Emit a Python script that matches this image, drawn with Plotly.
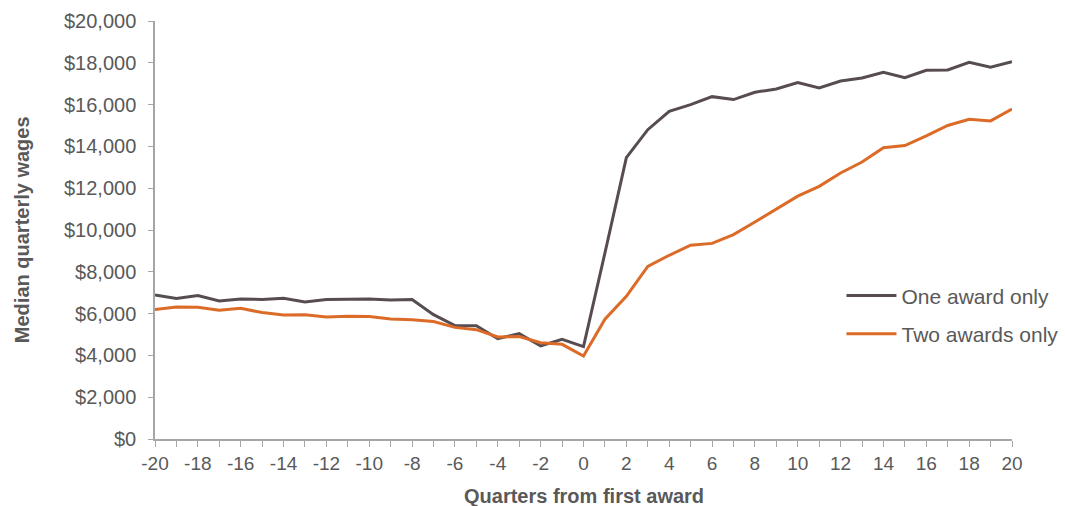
import plotly.graph_objects as go

quarters = list(range(-20, 21))

one_award = [6890, 6720, 6860, 6600, 6700, 6680, 6730, 6560, 6670, 6670,
             6700, 6650, 6670, 5950, 5430, 5420, 4800, 5040, 4450, 4770,
             4420, 8900, 13460, 14800, 15680, 16000, 16380, 16240, 16590, 16750,
             17060, 16800, 17130, 17270, 17550, 17290, 17640, 17660, 18020, 17790,
             18050]

two_awards = [6190, 6320, 6300, 6160, 6250, 6050, 5930, 5950, 5840, 5870,
              5860, 5740, 5700, 5620, 5340, 5230, 4880, 4900, 4610, 4530,
              3970, 5730, 6830, 8260, 8790, 9270, 9360, 9780, 10380, 11020,
              11620, 12090, 12730, 13250, 13940, 14040, 14500, 15000, 15300, 15220,
              15790]

y_ticks = list(range(0, 20001, 2000))
y_tick_labels = ["${:,}".format(v) for v in y_ticks]
x_ticks = list(range(-20, 21, 2))

GRAY_TEXT = "#595959"
AXIS_LINE = "#a6a6a6"

fig = go.Figure()
fig.add_trace(go.Scatter(x=quarters, y=one_award, mode="lines", name="One award only",
                         legendgroup="one", line=dict(color="#564c52", width=3)))
fig.add_trace(go.Scatter(x=quarters, y=two_awards, mode="lines", name="Two awards only",
                         legendgroup="two", line=dict(color="#dc6b28", width=3)))

fig.update_layout(
    width=1065, height=506,
    margin=dict(l=155, r=53, t=21, b=67, autoexpand=False),
    plot_bgcolor="white", paper_bgcolor="white",
    font=dict(family="Liberation Sans, Arial, sans-serif", size=20, color=GRAY_TEXT),
    showlegend=True,
    legend=dict(x=0.801, y=0.297, xanchor="left", yanchor="middle",
                font=dict(size=21, color=GRAY_TEXT), bgcolor="rgba(0,0,0,0)",
                traceorder="grouped", tracegroupgap=8, itemwidth=50),
)

fig.update_xaxes(
    range=[-20, 20], tickvals=x_ticks, ticktext=[str(v) for v in x_ticks],
    showgrid=False, zeroline=False, showline=True, linecolor=AXIS_LINE, linewidth=1.5,
    ticks="outside", ticklen=6, tickcolor=AXIS_LINE, automargin=False,
    minor=dict(dtick=1, tick0=-20, ticks="outside", ticklen=6, tickcolor=AXIS_LINE, showgrid=False),
    tickfont=dict(size=19, color=GRAY_TEXT),
)

fig.update_yaxes(
    range=[0, 20000], tickvals=y_ticks, ticktext=y_tick_labels,
    showgrid=False, zeroline=False, showline=True, linecolor=AXIS_LINE, linewidth=1.5,
    ticks="outside", ticklen=5, tickcolor=AXIS_LINE, ticklabelstandoff=8, automargin=False,
    tickfont=dict(size=20, color=GRAY_TEXT),
)

# axis titles placed in paper space
fig.add_annotation(text="<b>Quarters from first award</b>", xref="paper", yref="paper",
                   x=0.5, y=-0.137, xanchor="center", yanchor="middle", showarrow=False,
                   font=dict(size=20, color=GRAY_TEXT))
fig.add_annotation(text="<b>Median quarterly wages</b>", xref="paper", yref="paper",
                   x=-0.155, y=0.5, xanchor="center", yanchor="middle", showarrow=False,
                   textangle=-90, font=dict(size=20, color=GRAY_TEXT))

fig.write_html("out.html")
